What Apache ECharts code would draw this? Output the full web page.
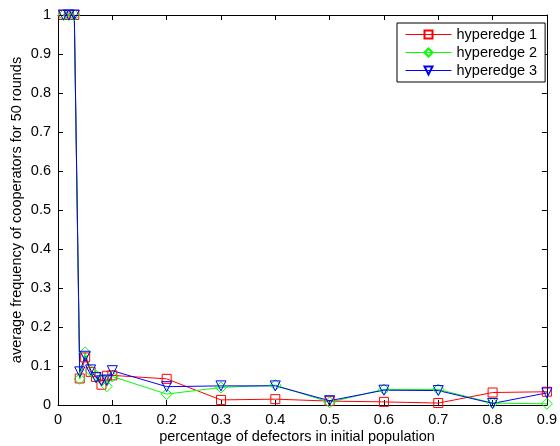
<!DOCTYPE html>
<html>
<head>
<meta charset="utf-8">
<script src="https://cdn.jsdelivr.net/npm/echarts@6/dist/echarts.min.js"></script>
<style>
html,body{margin:0;padding:0;background:#fff;}
#c{width:560px;height:446px;}
</style>
</head>
<body>
<div id="c"></div>
<script>
var xValues = [0.01,0.02,0.03,0.04,0.05,0.06,0.07,0.08,0.09,0.1,0.2,0.3,0.4,0.5,0.6,0.7,0.8,0.9];
var hyperedge1 = [1,1,1,0.068,0.122,0.085,0.072,0.052,0.075,0.076,0.067,0.013,0.015,0.010,0.008,0.005,0.032,0.034];
var hyperedge2 = [1,1,1,0.067,0.135,0.088,0.075,0.065,0.048,0.073,0.028,0.045,0.051,0.007,0.040,0.040,0.005,0.003];
var hyperedge3 = [1,1,1,0.085,0.125,0.090,0.070,0.062,0.064,0.088,0.047,0.049,0.049,0.011,0.038,0.037,0.004,0.031];
var seriesNames = ['hyperedge 1','hyperedge 2','hyperedge 3'];
var seriesColors = ['#ff0000','#00ff00','#0000ff'];
var xTitle = 'percentage of defectors in initial population';
var yTitle = 'average frequency of cooperators for 50 rounds';

function pairs(ys){ return xValues.map(function(x,i){ return [x, ys[i]]; }); }

var FONT = '"Liberation Sans", Arial, Helvetica, sans-serif';
var FS = 14.5;
var chart = echarts.init(document.getElementById('c'), null, {renderer:'canvas'});
var axisCommon = {
  axisLine:{show:true, onZero:false, lineStyle:{color:'#000', width:1}},
  axisTick:{show:true, inside:true, length:5, lineStyle:{color:'#000', width:1}},
  splitLine:{show:false}
};
var triPath = 'path://M0,0 L10,0 L5,10 Z';
function mkSeries(name, data, color, symbol, size){
  return {
    name:name, type:'line', data:pairs(data),
    symbol:symbol, symbolSize:size,
    showAllSymbol:true,
    lineStyle:{color:color, width:1},
    itemStyle:{color:'rgba(0,0,0,0)', borderColor:color, borderWidth:1},
    emphasis:{disabled:true},
    animation:false
  };
}
function fmt(v){ return String(Math.round(v*10)/10); }
chart.setOption({
  backgroundColor:'#fff',
  animation:false,
  grid:{left:58, right:9, top:15, bottom:41},
  xAxis:[
    Object.assign({type:'value', position:'bottom', min:0, max:0.9, interval:0.1,
      axisLabel:{color:'#000', fontFamily:FONT, fontSize:FS, margin:7, formatter:fmt}}, axisCommon),
    Object.assign({type:'value', position:'top', min:0, max:0.9, interval:0.1,
      axisLabel:{show:false}}, axisCommon)
  ],
  yAxis:[
    Object.assign({type:'value', position:'left', min:0, max:1, interval:0.1,
      axisLabel:{color:'#000', fontFamily:FONT, fontSize:FS, margin:7, formatter:fmt}}, axisCommon),
    Object.assign({type:'value', position:'right', min:0, max:1, interval:0.1,
      axisLabel:{show:false}}, axisCommon)
  ],
  legend:{
    orient:'vertical', left:397, top:23,
    data:seriesNames,
    backgroundColor:'#fff', borderColor:'#000', borderWidth:1,
    padding:[4,8,4,8], itemWidth:46, itemHeight:10, itemGap:3,
    lineStyle:{width:1},
    textStyle:{color:'#000', fontFamily:FONT, fontSize:FS},
    selectedMode:false
  },
  graphic:[
    {type:'text', x:297, y:437, style:{text:xTitle, fontFamily:FONT, fontSize:FS, fill:'#000', align:'center', verticalAlign:'middle'}},
    {type:'text', x:17, y:210, rotation:Math.PI/2, style:{text:yTitle, fontFamily:FONT, fontSize:FS, fill:'#000', align:'center', verticalAlign:'middle'}}
  ],
  series:[
    mkSeries(seriesNames[0], hyperedge1, seriesColors[0], 'rect', 9),
    mkSeries(seriesNames[1], hyperedge2, seriesColors[1], 'diamond', 11),
    mkSeries(seriesNames[2], hyperedge3, seriesColors[2], triPath, 10)
  ]
});
</script>
</body>
</html>
